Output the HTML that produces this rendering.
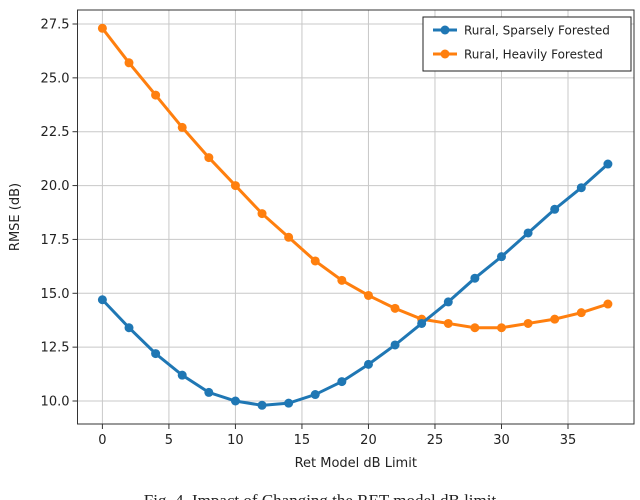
<!DOCTYPE html>
<html><head><meta charset="utf-8"><style>
body{margin:0;background:#fff;width:640px;height:500px;overflow:hidden}
svg{display:block;font-family:"DejaVu Sans","Liberation Sans",sans-serif}
</style></head><body>
<svg id="chart" width="640" height="500"></svg>
<script>
const xs=[0,2,4,6,8,10,12,14,16,18,20,22,24,26,28,30,32,34,36,38];
const sparse=[14.7,13.4,12.2,11.2,10.4,10.0,9.8,9.9,10.3,10.9,11.7,12.6,13.6,14.6,15.7,16.7,17.8,18.9,19.9,21.0];
const heavy=[27.3,25.7,24.2,22.7,21.3,20.0,18.7,17.6,16.5,15.6,14.9,14.3,13.8,13.6,13.4,13.4,13.6,13.8,14.1,14.5];
const xTicks=[0,5,10,15,20,25,30,35];
const yTicks=[10.0,12.5,15.0,17.5,20.0,22.5,25.0,27.5];
const NS="http://www.w3.org/2000/svg";
const svg=document.getElementById('chart');
const L=77.5,R=634,T=10,B=424;
const X=v=>102.4+(v-0)*(568-102.4)/35;
const Y=v=>401-(v-10)*(401-24)/17.5;
function el(t,a,p){const e=document.createElementNS(NS,t);for(const k in a)e.setAttribute(k,a[k]);(p||svg).appendChild(e);return e;}
const grid=el('g',{});


xTicks.forEach(t=>{
 el('line',{x1:X(t),x2:X(t),y1:T,y2:B,stroke:'#c8c8c8','stroke-width':1},grid);
 el('line',{x1:X(t),x2:X(t),y1:B,y2:B+5,stroke:'#333'},grid);
 const tx=el('text',{x:X(t),y:B+20,'text-anchor':'middle','font-size':13,fill:'#222'});
 tx.textContent=t;
 
 
});
yTicks.forEach(t=>{
 el('line',{x1:L,x2:R,y1:Y(t),y2:Y(t),stroke:'#c8c8c8','stroke-width':1},grid);
 el('line',{x1:L-5,x2:L,y1:Y(t),y2:Y(t),stroke:'#333'},grid);
 const tx=el('text',{x:L-8,y:Y(t)+4.5,'text-anchor':'end','font-size':13,fill:'#222'});
 tx.textContent=t.toFixed(1);
 
 
});
const frame=el('rect',{x:L,y:T,width:R-L,height:B-T,fill:'none',stroke:'#333','stroke-width':1});


function series(vals,color,name){
 const g=el('g',{});
 
 
 el('polyline',{points:xs.map((x,i)=>X(x)+','+Y(vals[i])).join(' '),fill:'none',stroke:color,'stroke-width':3},g);
 xs.forEach((x,i)=>{const c=el('circle',{cx:X(x),cy:Y(vals[i]),r:4.5,fill:color},g);
  
  });
}
series(heavy,'#ff7f0e','series-heavily-forested');
series(sparse,'#1f77b4','series-sparsely-forested');
const xl=el('text',{x:(L+R)/2,y:467,'text-anchor':'middle','font-size':13,fill:'#222'});
xl.textContent='Ret Model dB Limit';


const yl=el('text',{x:0,y:0,'text-anchor':'middle','font-size':13,fill:'#222',transform:'translate(19,217) rotate(-90)'});
yl.textContent='RMSE (dB)';


const lg=el('g',{});


el('rect',{x:423,y:17,width:208,height:54,fill:'#fff',stroke:'#222','stroke-width':1},lg);
[['Rural, Sparsely Forested','#1f77b4',30],['Rural, Heavily Forested','#ff7f0e',54]].forEach(([t,c,y])=>{
 el('line',{x1:433,x2:457,y1:y,y2:y,stroke:c,'stroke-width':3},lg);
 el('circle',{cx:445,cy:y,r:4.5,fill:c},lg);
 const tx=el('text',{x:464,y:y+4.5,'font-size':12,fill:'#222'},lg);
 tx.textContent=t;
 
 
});
const cap=el('text',{x:320,y:506,'text-anchor':'middle','font-size':17,fill:'#222','font-family':'Liberation Serif, serif'});
cap.textContent='Fig. 4.  Impact of Changing the RET model dB limit';


</script>
</body></html>
